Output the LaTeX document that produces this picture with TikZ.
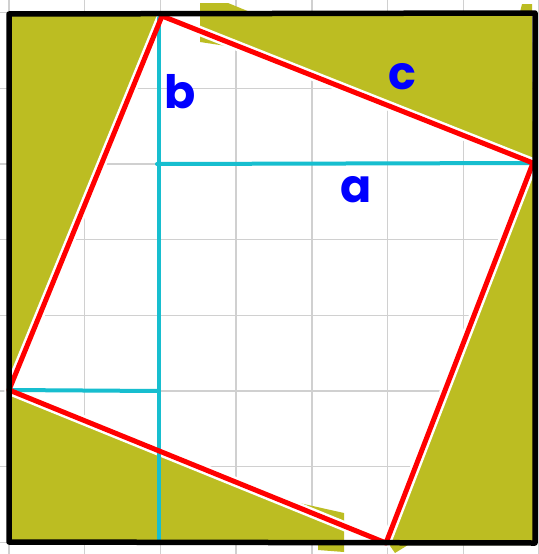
\documentclass[tikz,border=0pt]{standalone}
\usepackage{fontspec}
\newfontfamily\handfont{Poppins}
\definecolor{olivefill}{HTML}{BCBD22}
\definecolor{cyanline}{HTML}{17BECF}
\definecolor{gridgray}{HTML}{D0D0D0}
\tikzset{
  gridline/.style={draw=gridgray, line width=1.4pt},
  olivepatch/.style={fill=olivefill},
  leg/.style={draw=cyanline, line width=4pt, line cap=round, line join=round},
  hyp/.style={draw=red, line width=5pt, line cap=round, line join=round},
  hypgap/.style={draw=white, line width=10pt, line cap=round, line join=round},
  frame/.style={draw=black, line width=5.5pt, line cap=round, line join=round},
  lbl/.style={text=blue, font=\handfont\bfseries\fontsize{46}{46}\selectfont, inner sep=0pt}
}
\begin{document}
\begin{tikzpicture}[x=1pt,y=-1pt]
\useasboundingbox (0,0) rectangle (538,554);
\fill[white] (0,0) rectangle (538,554);
% grid
\foreach \i in {0,...,7} {
  \draw[gridline] ({9+75.7*\i},0) -- ++(0,554);
  \draw[gridline] (0,{12.5+75.7*\i}) -- ++(538,0);
}
% corners of the tilted square
\coordinate (T) at (162,16);
\coordinate (R) at (533,163);
\coordinate (B) at (386,543);
\coordinate (L) at (9,390);
% olive triangles
\fill[olivefill] (10,15) -- (160,15) -- (12,378) -- (10,378) -- cycle;
\fill[olivefill] (200,3) -- (228,3) -- (250,12) -- (520,12) -- (522,4) -- (532,4)
  -- (533,162) -- (233,47) -- (200,42) -- cycle;
\fill[olivefill] (534,164) -- (535,545) -- (408,545) -- (395,553) -- (388,543) -- cycle;
\fill[olivefill] (10,392) -- (10,541) -- (318,543) -- (318,550) -- (344,552)
  -- (344,513) -- (268,496) -- cycle;
% white halo under the hypotenuse square
\draw[hypgap] (T) -- (R) -- (B) -- (L) -- cycle;
% legs
\coordinate (vt) at (159,18);
\coordinate (vb) at (159,541);
\coordinate (ht) at (157,164);
\coordinate (hb) at (158,391);
\draw[leg] (vt) -- (vb);
\draw[leg] (ht) -- (R);
\draw[leg] (L) -- (hb);
% tilted square
\draw[hyp] (T) -- (R) -- (B) -- (L) -- cycle;
% outer frame
\draw[frame] (9,14) -- (535,13) -- (535,543) -- (9,542) -- cycle;
% labels
\node[lbl] (lb) at (180,92) {b};
\node[lbl] (lc) at (402,77) {c};
\node[lbl] (la) at (356,190) {a};
\end{tikzpicture}
\end{document}
